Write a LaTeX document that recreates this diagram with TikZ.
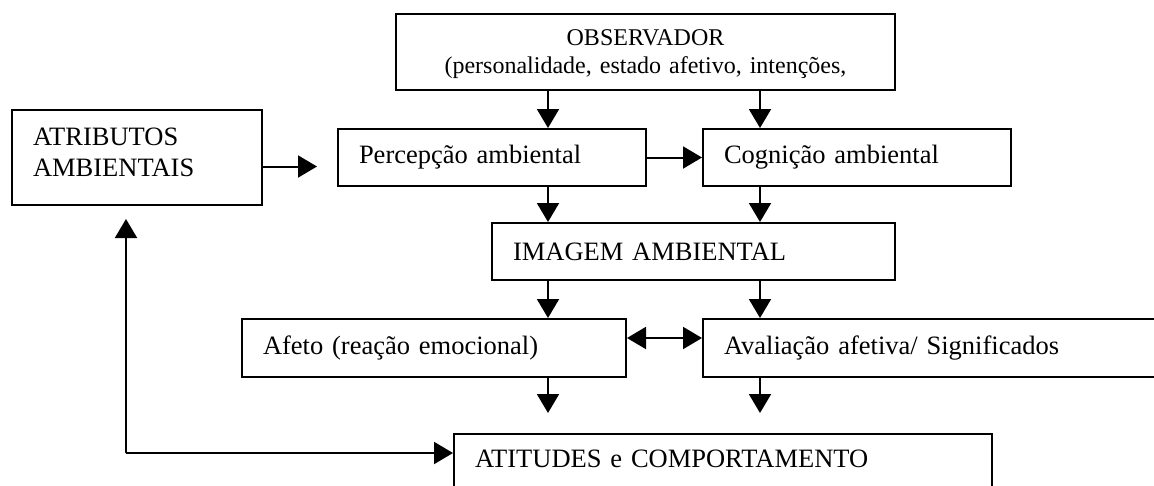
\documentclass[tikz,border=0pt]{standalone}
\usepackage{fontspec}
\setmainfont{Liberation Serif}
\usetikzlibrary{arrows.meta}

\begin{document}
\begin{tikzpicture}
    [ x = 1pt, y = -1pt
    , box/.style =
      { draw, line width=2pt, anchor=north west, inner xsep=21pt, inner ysep=0pt
      , align=left, font=\fontsize{26.5}{31}\selectfont }
    , arr/.style =
      { line width=2pt, -{Triangle[length=19pt,width=22pt]} }
    , twoway/.style =
      { line width=2pt, {Triangle[length=19pt,width=22pt]}-{Triangle[length=19pt,width=22pt]} }
    ]
    \useasboundingbox (0,0) rectangle (1154,485);

    \node [box, text width=457pt, minimum height=76pt, text depth=28pt, align=center, font=\fontsize{24}{28}\selectfont] (obs) at (395,13)
      {OBSERVADOR\\(personalidade, estado afetivo, intenções,};
    \node [box, text width=208pt, minimum height=95pt, text depth=42pt] (atrib) at (11,109) {ATRIBUTOS\\AMBIENTAIS};
    \node [box, text width=266pt, minimum height=57pt] (perc) at (337,128) {Percepção ambiental};
    \node [box, text width=266pt, minimum height=57pt] (cogn) at (702,128) {Cognição ambiental};
    \node [box, text width=361pt, minimum height=57pt] (imag) at (491,222) {IMAGEM AMBIENTAL};
    \node [box, text width=342pt, minimum height=58pt] (afeto) at (241,318) {Afeto (reação emocional)};
    \node [box, text width=440pt, minimum height=58pt] (aval) at (702,318) {Avaliação afetiva/ Significados};
    \node [box, text width=496pt, text height=31pt, text depth=34pt, inner ysep=2.5pt] (atit) at (453,433) {ATITUDES e COMPORTAMENTO};

    \coordinate (colL) at (548,0);
    \coordinate (colR) at (760,0);
    \coordinate (loop) at (126,453);

    \draw [arr] (obs.south -| colL) -- (perc.north -| colL);
    \draw [arr] (obs.south -| colR) -- (cogn.north -| colR);
    \draw [arr, shorten >=20pt] ([yshift=-9pt]atrib.east) -- ([yshift=-9pt]atrib.east -| perc.west);
    \draw [arr] (perc.east) -- (cogn.west);
    \draw [arr] (perc.south -| colL) -- (imag.north -| colL);
    \draw [arr] (cogn.south -| colR) -- (imag.north -| colR);
    \draw [arr] (imag.south -| colL) -- (afeto.north -| colL);
    \draw [arr] (imag.south -| colR) -- (aval.north -| colR);
    \draw [twoway] ([yshift=10pt]afeto.east) -- ([yshift=10pt]afeto.east -| aval.west);
    \draw [arr, shorten >=20pt] (afeto.south -| colL) -- (atit.north -| colL);
    \draw [arr, shorten >=20pt] (aval.south -| colR) -- (atit.north -| colR);
    \draw [arr, shorten >=13pt] (loop) -- (loop |- atrib.south);
    \draw [arr] (loop) -- (loop -| atit.west);
\end{tikzpicture}
\end{document}
